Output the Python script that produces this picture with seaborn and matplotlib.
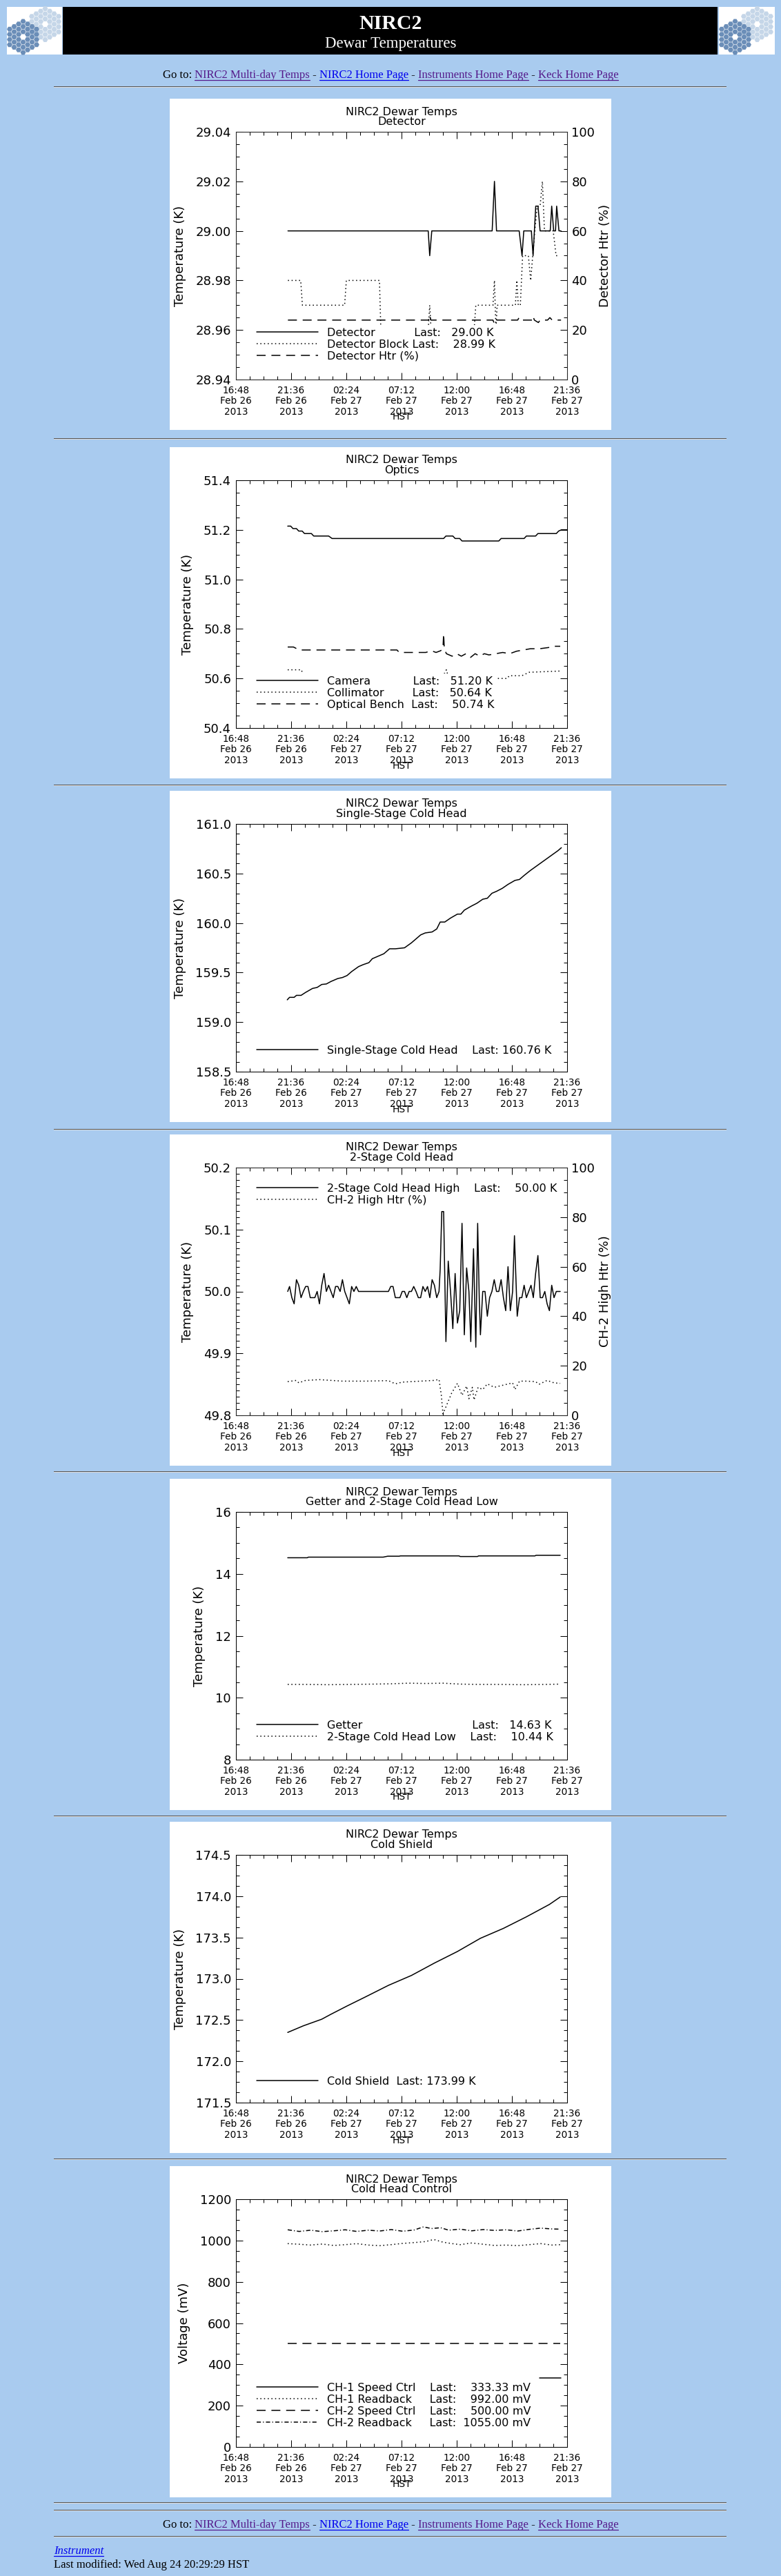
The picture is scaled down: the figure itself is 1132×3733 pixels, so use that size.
import numpy as np
import pandas as pd
import matplotlib
matplotlib.use('Agg')
import matplotlib.pyplot as plt
import seaborn as sns
from matplotlib.patches import Rectangle, RegularPolygon
from matplotlib.ticker import MultipleLocator, FixedLocator, FormatStrFormatter
from matplotlib.transforms import Bbox, TransformedBbox

# ---- time axis: hours after 16:48 HST, Feb 26 2013 ----
x_ticks = [0.0, 4.8, 9.6, 14.4, 19.2, 24.0, 28.8]
x_labels = ['16:48\nFeb 26\n2013', '21:36\nFeb 26\n2013', '02:24\nFeb 27\n2013',
            '07:12\nFeb 27\n2013', '12:00\nFeb 27\n2013', '16:48\nFeb 27\n2013',
            '21:36\nFeb 27\n2013']

# ---- 1. Detector ----
det_t = [4.52, 16.72, 16.85, 17.03, 22.28, 22.48, 22.66, 24.63, 24.88, 25.03, 25.69,
         25.84, 26.07, 26.27, 26.45, 27.33, 27.46, 27.63, 27.79, 27.89, 28.09, 28.27]
det_k = [29.00, 29.00, 28.99, 29.00, 29.00, 29.02, 29.00, 29.00, 28.99, 29.00, 29.00,
         28.99, 29.01, 29.01, 29.00, 29.00, 29.01, 29.00, 29.00, 29.01, 29.00, 29.00]
block_t = [4.52, 5.63, 5.78, 9.45, 9.60, 12.48, 12.60, 16.72, 16.85, 16.97, 20.71, 20.86,
           22.35, 22.48, 22.61, 22.71, 24.30, 24.43, 24.55, 24.73, 24.93, 25.43, 25.63,
           25.81, 25.99, 26.20, 26.45, 26.65, 26.83, 27.59, 27.84, 28.01]
block_k = [28.98, 28.98, 28.97, 28.97, 28.98, 28.98, 28.96, 28.96, 28.97, 28.96, 28.96, 28.97,
           28.97, 28.98, 28.96, 28.97, 28.97, 28.98, 28.97, 28.97, 28.99, 28.99, 28.98,
           28.99, 29.00, 29.01, 29.01, 29.02, 29.00, 29.00, 28.99, 28.99]
dhtr_t = [4.52, 16.75, 16.85, 16.95, 22.35, 22.48, 22.60, 24.50, 24.62, 24.75, 25.75,
          25.84, 25.95, 26.30, 26.45, 27.10, 27.30, 27.50, 28.27]
dhtr_p = [24, 24, 26, 24, 24, 22.5, 24, 24, 25, 24, 24, 25.5, 24, 23, 24, 24, 25, 24, 24]

# ---- 2. Optics ----
cam_t = [4.50, 4.76, 4.96, 5.26, 5.46, 5.76, 5.96, 6.56, 6.76, 8.06, 8.36, 18.06, 18.26,
         18.86, 19.06, 19.46, 19.66, 22.86, 23.06, 25.06, 25.26, 26.06, 26.26, 27.86,
         28.06, 28.30, 28.80]
cam_k = [51.215, 51.215, 51.205, 51.205, 51.195, 51.195, 51.185, 51.185, 51.175, 51.175,
         51.165, 51.165, 51.175, 51.175, 51.165, 51.165, 51.155, 51.155, 51.165, 51.165,
         51.175, 51.175, 51.185, 51.185, 51.195, 51.200, 51.200]
coll_t = [4.50, 5.70, 5.90, 17.90, 18.30, 18.50, 23.60, 23.76, 24.86, 25.50, 28.20]
coll_k = [50.635, 50.635, 50.600, 50.600, 50.635, 50.600, 50.600, 50.611, 50.611, 50.625, 50.630]
bench_t = [4.50, 5.00, 5.50, 14.00, 14.20, 16.50, 17.00, 17.40, 17.80, 18.00, 18.06, 18.12,
           18.30, 18.80, 19.20, 19.60, 20.00, 20.40, 20.80, 21.20, 21.60, 22.00, 22.60,
           23.20, 23.80, 24.40, 25.00, 25.60, 26.40, 27.20, 27.60, 28.20]
bench_k = [50.727, 50.727, 50.715, 50.715, 50.705, 50.705, 50.712, 50.705, 50.712, 50.720,
           50.780, 50.720, 50.700, 50.690, 50.700, 50.690, 50.700, 50.685, 50.700, 50.690,
           50.700, 50.695, 50.700, 50.705, 50.700, 50.710, 50.715, 50.720, 50.720, 50.725,
           50.730, 50.730]

# ---- 3. Single-stage cold head ----
ss_t = [4.46, 4.66, 5.06, 5.26, 5.66, 6.06, 6.66, 7.06, 7.46, 7.86, 8.26, 8.86, 9.26, 9.66,
        10.06, 10.66, 11.06, 11.56, 11.86, 12.46, 12.86, 13.36, 13.86, 14.66, 15.26, 15.66,
        16.06, 16.46, 17.06, 17.46, 17.76, 18.16, 18.66, 19.26, 19.56, 19.86, 20.46, 20.96,
        21.46, 21.86, 22.26, 22.66, 23.16, 23.66, 24.26, 24.66, 25.06, 25.60, 26.20, 26.80,
        27.40, 28.00, 28.30]
ss_k = [159.225, 159.25, 159.25, 159.27, 159.27, 159.30, 159.34, 159.35, 159.38, 159.385,
        159.41, 159.44, 159.45, 159.47, 159.51, 159.56, 159.58, 159.60, 159.64, 159.67,
        159.69, 159.74, 159.74, 159.75, 159.80, 159.84, 159.88, 159.90, 159.91, 159.94,
        160.01, 160.01, 160.05, 160.09, 160.09, 160.13, 160.17, 160.20, 160.24, 160.25,
        160.30, 160.32, 160.35, 160.39, 160.43, 160.44, 160.48, 160.53, 160.58, 160.63,
        160.68, 160.73, 160.76]

# ---- 4. 2-stage cold head ----
ch2_t = [4.50, 4.66, 4.86, 5.06, 5.26, 5.46, 5.66, 5.86, 6.06, 6.26, 6.46, 6.86, 7.06, 7.26,
         7.46, 7.66, 7.86, 8.06, 8.26, 8.46, 8.66, 8.86, 9.06, 9.26, 9.46, 9.66, 9.86, 10.06,
         10.26, 10.46, 10.66, 13.26, 13.46, 13.66, 13.86, 14.26, 14.46, 14.66, 14.86, 15.06,
         15.26, 15.46, 15.66, 15.86, 16.06, 16.26, 16.46, 16.66, 16.86, 17.06, 17.26, 17.46,
         17.66, 17.76, 17.90, 18.06, 18.26, 18.46, 18.66, 18.86, 19.06, 19.26, 19.46, 19.66,
         19.86, 20.06, 20.26, 20.42, 20.66, 20.86, 21.02, 21.16, 21.26, 21.46, 21.66, 21.86,
         22.06, 22.26, 22.46, 22.66, 22.86, 23.06, 23.26, 23.46, 23.66, 23.86, 24.06, 24.22,
         24.46, 24.66, 24.86, 25.06, 25.26, 25.46, 25.66, 25.86, 26.06, 26.26, 26.46, 26.66,
         26.86, 27.06, 27.26, 27.46, 27.66, 27.86, 28.20]
ch2_k = [50.000, 50.008, 49.990, 49.980, 50.019, 50.010, 49.990, 50.000, 50.008, 50.008,
         49.990, 49.990, 50.000, 49.980, 50.010, 50.029, 50.000, 50.010, 50.000, 49.990,
         50.008, 50.008, 50.000, 50.019, 50.000, 49.990, 49.980, 50.008, 50.000, 50.008,
         50.000, 50.000, 50.008, 50.008, 49.990, 49.990, 50.000, 50.000, 49.990, 50.000,
         50.000, 50.008, 50.000, 49.990, 49.990, 50.008, 50.000, 50.008, 49.990, 50.019,
         50.010, 49.990, 50.000, 50.036, 50.129, 50.129, 49.919, 50.049, 50.000, 49.940,
         50.029, 49.949, 49.969, 50.110, 49.930, 50.038, 50.000, 49.919, 50.069, 49.910,
         50.110, 49.988, 49.930, 50.000, 50.000, 49.960, 49.990, 50.000, 50.019, 50.000,
         50.000, 50.019, 49.990, 49.969, 50.040, 49.969, 50.000, 50.090, 49.960, 49.990,
         49.990, 50.010, 49.990, 50.000, 50.010, 49.990, 50.029, 50.058, 49.990, 49.990,
         50.000, 49.980, 49.969, 50.010, 49.990, 50.000, 50.000]
ch2htr_t = [4.50, 5.26, 5.46, 6.06, 7.26, 9.26, 11.26, 13.26, 13.86, 14.46, 17.26, 17.66,
            17.86, 18.00, 18.26, 18.76, 19.26, 19.66, 20.06, 20.26, 20.56, 20.70, 21.06,
            21.46, 21.86, 22.46, 23.26, 24.06, 24.26, 24.66, 25.26, 26.06, 26.36, 27.06,
            27.66, 28.20]
ch2htr_p = [13.6, 14.1, 13.1, 14.1, 14.4, 13.8, 13.8, 14.0, 12.7, 13.4, 14.1, 14.5,
            8.1, 0.6, 3.4, 9.0, 12.9, 8.1, 11.8, 6.7, 11.3, 6.2, 11.3,
            10.4, 12.7, 11.3, 12.2, 13.1, 10.4, 13.8, 13.8, 13.6, 12.5, 14.1,
            13.1, 12.9]

# ---- 5. Getter / 2-stage low ----
get_t = [4.5, 6.2, 6.3, 12.8, 13.2, 14.2, 14.3, 19.4, 19.5, 21.0, 21.1, 26.0, 26.1, 28.2]
get_k = [14.52, 14.52, 14.54, 14.54, 14.57, 14.57, 14.58, 14.58, 14.56, 14.56, 14.58,
         14.58, 14.60, 14.60]
low_t = [4.5, 6.0, 8.0, 10.0, 12.0, 13.5, 15.0, 16.5, 18.0, 19.5, 21.0, 23.0, 25.0, 27.0, 28.2]
low_k = [10.43, 10.43, 10.42, 10.43, 10.44, 10.45, 10.47, 10.46, 10.47, 10.44, 10.43,
         10.43, 10.42, 10.43, 10.44]

# ---- 6. Cold shield ----
cs_t = [4.50, 5.86, 7.46, 8.26, 9.66, 11.26, 13.26, 15.26, 17.26, 19.26, 21.26, 23.26,
        25.26, 27.26, 28.20]
cs_k = [172.35, 172.43, 172.51, 172.57, 172.67, 172.78, 172.92, 173.04, 173.19, 173.33,
        173.49, 173.61, 173.75, 173.90, 173.99]

# ---- 7. Cold head control (mV) ----
sp1_t = [26.4, 28.26]
sp1_mv = [333.33, 333.33]
rb1_t = [4.5, 5.5, 6.5, 7.5, 8.5, 9.5, 10.5, 11.5, 12.5, 13.5, 14.5, 15.5, 16.5, 17.2,
         18.0, 18.8, 19.5, 20.5, 21.5, 22.5, 23.5, 24.5, 25.5, 26.5, 27.5, 28.2]
rb1_mv = [985, 982, 978, 983, 976, 980, 985, 978, 975, 980, 986, 990, 995, 1005,
          992, 985, 980, 988, 982, 976, 978, 975, 980, 985, 978, 980]
sp2_t = [4.5, 28.2]
sp2_mv = [500.0, 500.0]
rb2_t = [4.5, 5.5, 6.5, 7.5, 8.5, 9.5, 10.5, 11.5, 12.5, 13.5, 14.5, 15.5, 16.3, 17.0,
         17.8, 18.5, 19.5, 20.5, 21.5, 22.5, 23.5, 24.5, 25.5, 26.5, 27.5, 28.2]
rb2_mv = [1052, 1044, 1050, 1043, 1047, 1052, 1044, 1050, 1046, 1053, 1045, 1051, 1066,
          1058, 1062, 1050, 1055, 1047, 1053, 1049, 1052, 1046, 1054, 1060, 1056, 1055]

# ---- page layout (pixels) ----
W, H = 1132, 3733
BG = '#a9cbef'
AX_L, AX_W, AX_H = 342, 480, 359
tops = [191, 696, 1194, 1692, 2191, 2688, 3187]
hr_y = [126, 636, 1138, 1637, 2133, 2632, 3129, 3627, 3638, 3676]
LEG_FS = 11.5
SOLID = '-'
DOT = (0, (1, 2.5))
DASH = (0, (8.5, 5.5))
DASHDOT = (0, (4, 2, 0.8, 2))

sns.set_style('ticks')
plt.rcParams['font.family'] = ['DejaVu Sans']
plt.rcParams['text.color'] = 'black'
plt.rcParams['axes.labelcolor'] = 'black'
plt.rcParams['xtick.color'] = 'black'
plt.rcParams['ytick.color'] = 'black'

fig = plt.figure(figsize=(W / 100, H / 100), dpi=100, facecolor=BG)
bg = fig.add_axes([0, 0, 1, 1])
bg.set_xlim(0, W)
bg.set_ylim(H, 0)
bg.axis('off')
renderer = fig.canvas.get_renderer()


def text_width(s, **kw):
    t = bg.text(0, 0, s, **kw)
    w = t.get_window_extent(renderer).width
    t.remove()
    return w


def hr(y):
    bg.add_patch(Rectangle((78, y - 1), 975, 1.2, color='#555555', lw=0))
    bg.add_patch(Rectangle((78, y + 0.2), 975, 1.0, color='#dcdcdc', lw=0))


def mirror(cx, cy, color):
    s = 4.33
    for q in range(-3, 4):
        for r in range(-3, 4):
            if abs(q + r) > 3 or (q == 0 and r == 0):
                continue
            x = cx + 1.5 * s * q
            y = cy + np.sqrt(3) * s * (r + q / 2)
            bg.add_patch(RegularPolygon((x, y), 6, radius=s * 0.92,
                                        orientation=np.pi / 6, color=color, lw=0))


def nav_line(yb):
    serif = dict(fontsize=12, family='Liberation Serif')
    pieces = [('Go to: ', 'black', False), ('NIRC2 Multi-day Temps', '#551a8b', True),
              (' - ', 'black', False), ('NIRC2 Home Page', '#0000ee', True),
              (' - ', 'black', False), ('Instruments Home Page', '#551a8b', True),
              (' - ', 'black', False), ('Keck Home Page', '#551a8b', True)]
    base = text_width('xx', **serif)
    widths = [text_width('x' + p + 'x', **serif) - base for p, _, _ in pieces]
    x = 566 - sum(widths) / 2
    for (p, c, link), w in zip(pieces, widths):
        bg.text(x, yb, p, color=c, ha='left', va='baseline', **serif)
        if link:
            bg.plot([x, x + w], [yb + 3, yb + 3], color=c, lw=0.9)
        x += w


def legend_label(name, value, last_at, value_at, right=False):
    if value is None:
        return name
    kw = dict(fontsize=LEG_FS)

    def start_of(prefix, suffix):
        return text_width(prefix + suffix, **kw) - text_width(suffix, **kw)

    s = name + ' '
    while start_of(s + ' ', 'Last:') <= last_at:
        s += ' '
    s += 'Last: '
    target = value_at - (text_width(value, **kw) if right else 0)
    while start_of(s + ' ', value) <= target:
        s += ' '
    return s + value


def make_chart(top, subtitle, ylim, major, minor, fmt, ylabel):
    bg.add_patch(Rectangle((246, top - 48), 640, 480, color='white', lw=0))
    bg.text(582, top - 24.5, 'NIRC2 Dewar Temps', ha='center', va='baseline', fontsize=11.5)
    bg.text(582, top - 10, subtitle, ha='center', va='baseline', fontsize=11.5)
    bg.text(582, top + AX_H + 58.5, 'HST', ha='center', va='baseline', fontsize=10)
    ax = fig.add_axes([AX_L / W, 1 - (top + AX_H) / H, AX_W / W, AX_H / H])
    ax.set_facecolor('white')
    ax._chart = (top, ylim, major, minor, fmt, ylabel)
    return ax


def style_chart(ax, twin=None):
    top, ylim, major, minor, fmt, ylabel = ax._chart
    ax.set_xlim(0, 28.8)
    ax.set_ylim(*ylim)
    ax.xaxis.set_major_locator(FixedLocator(x_ticks))
    ax.xaxis.set_minor_locator(MultipleLocator(1.2))
    ax.set_xticklabels(x_labels, fontsize=9.8, linespacing=1.13)
    ax.yaxis.set_major_locator(MultipleLocator(major))
    ax.yaxis.set_minor_locator(MultipleLocator(minor))
    ax.yaxis.set_major_formatter(FormatStrFormatter(fmt))
    ax.tick_params(which='both', direction='in', top=True, right=twin is None,
                   width=0.75, colors='black')
    ax.tick_params(which='major', length=7.2)
    ax.tick_params(which='minor', length=3.4)
    ax.tick_params(axis='y', labelsize=13, pad=5)
    ax.tick_params(axis='x', pad=6.5)
    ax.set_xlabel('')
    ax.set_ylabel(ylabel, fontsize=13, labelpad=10)
    for sp in ax.spines.values():
        sp.set_linewidth(0.75)
        sp.set_color('black')
    if twin is not None:
        ax2, rlabel = twin
        ax2.set_ylim(0, 100)
        ax2.yaxis.set_major_locator(MultipleLocator(20))
        ax2.yaxis.set_minor_locator(MultipleLocator(5))
        ax2.yaxis.set_major_formatter(FormatStrFormatter('%d'))
        ax2.tick_params(axis='y', which='both', direction='in', right=True, left=False,
                        labelright=True, labelleft=False, width=0.75, labelsize=13, pad=4.5)
        ax2.tick_params(axis='y', which='major', length=7.2)
        ax2.tick_params(axis='y', which='minor', length=3.4)
        ax2.set_ylabel(rlabel, fontsize=13, labelpad=4, rotation=90)
        for sp in ax2.spines.values():
            sp.set_linewidth(0.75)
        clip = TransformedBbox(Bbox.from_extents(246 / W, 1 - (top + 432) / H,
                                                 886 / W, 1 - (top - 48) / H), fig.transFigure)
        ax2.yaxis.label.set_clip_box(clip)
        ax2.yaxis.label.set_clip_on(True)


def line(ax, t, v, style):
    sns.lineplot(x=t, y=v, ax=ax, color='black', linewidth=1.1, linestyle=style,
                 estimator=None, sort=False, legend=False)
    return ax.lines[-1]


def add_legend(ax, top, handles, labels, row_y):
    F = LEG_FS * 100 / 72
    bp = 0.25
    xa = (372 - bp * F - AX_L) / AX_W
    ya = 1 - ((row_y - 8.2 - bp * F) - top) / AX_H
    leg = ax.legend(handles, labels, loc='upper left', bbox_to_anchor=(xa, ya),
                    borderaxespad=0, borderpad=bp, frameon=True, fancybox=False,
                    framealpha=1, facecolor='white', edgecolor='white', fontsize=LEG_FS,
                    handlelength=5.6, handletextpad=0.8, labelspacing=0.13)
    leg.get_frame().set_linewidth(0)
    leg.set_zorder(10)


# ---- header ----
bg.add_patch(Rectangle((10, 10), 79.5, 69, color='white', lw=0))
bg.add_patch(Rectangle((91, 10), 949, 69, color='black', lw=0))
bg.add_patch(Rectangle((1042, 10), 81, 69, color='white', lw=0))
for dx in (0, 1032):
    mirror(65.5 + dx, 35, '#c5d6e8')
    mirror(33.5 + dx, 53.5, '#6b8eb8')
bg.text(566, 42, 'NIRC2', color='white', ha='center', va='baseline', fontsize=21.5,
        fontweight='bold', family='Liberation Serif')
bg.text(566, 69, 'Dewar Temperatures', color='white', ha='center', va='baseline',
        fontsize=16.5, family='Liberation Serif')
nav_line(113)
for y in hr_y:
    hr(y)
nav_line(3663)
bg.text(78, 3701, 'Instrument', color='#0000ee', ha='left', va='baseline', fontsize=12,
        family='Liberation Serif', fontstyle='italic')
bg.plot([78, 78 + text_width('Instrument', fontsize=12, family='Liberation Serif',
                             fontstyle='italic')], [3703.5, 3703.5], color='#0000ee', lw=0.9)
bg.text(78, 3721, 'Last modified: Wed Aug 24 20:29:29 HST', color='black', ha='left',
        va='baseline', fontsize=12, family='Liberation Serif')

# ---- chart 1: Detector ----
ax = make_chart(tops[0], 'Detector', (28.94, 29.04), 0.02, 0.005, '%.2f', 'Temperature (K)')
h1 = line(ax, det_t, det_k, SOLID)
h2 = line(ax, block_t, block_k, DOT)
ax2 = ax.twinx()
h3 = line(ax2, dhtr_t, dhtr_p, DASH)
style_chart(ax, (ax2, 'Detector Htr (%)'))
add_legend(ax2, tops[0], [h1, h2, h3],
           [legend_label('Detector', '29.00 K', 128, 184),
            legend_label('Detector Block', '28.99 K', 128, 184),
            'Detector Htr (%)'], 483)

# ---- chart 2: Optics ----
ax = make_chart(tops[1], 'Optics', (50.4, 51.4), 0.2, 0.05, '%.1f', 'Temperature (K)')
h1 = line(ax, cam_t, cam_k, SOLID)
h2 = line(ax, coll_t, coll_k, DOT)
h3 = line(ax, bench_t, bench_k, DASH)
style_chart(ax)
add_legend(ax, tops[1], [h1, h2, h3],
           [legend_label('Camera', '51.20 K', 126, 182),
            legend_label('Collimator', '50.64 K', 126, 182),
            legend_label('Optical Bench', '50.74 K', 126, 182)], 988)

# ---- chart 3: Single-Stage Cold Head ----
ax = make_chart(tops[2], 'Single-Stage Cold Head', (158.5, 161.0), 0.5, 0.1, '%.1f',
                'Temperature (K)')
h1 = line(ax, ss_t, ss_k, SOLID)
style_chart(ax)
add_legend(ax, tops[2], [h1], [legend_label('Single-Stage Cold Head', '160.76 K', 211, 251)], 1523)

# ---- chart 4: 2-Stage Cold Head ----
ax = make_chart(tops[3], '2-Stage Cold Head', (49.8, 50.2), 0.1, 0.01, '%.1f', 'Temperature (K)')
h1 = line(ax, ch2_t, ch2_k, SOLID)
ax2 = ax.twinx()
h2 = line(ax2, ch2htr_t, ch2htr_p, DOT)
style_chart(ax, (ax2, 'CH-2 High Htr (%)'))
add_legend(ax2, tops[3], [h1, h2],
           [legend_label('2-Stage Cold Head High', '50.00 K', 217, 273),
            'CH-2 High Htr (%)'], 1723)

# ---- chart 5: Getter and 2-Stage Cold Head Low ----
ax = make_chart(tops[4], 'Getter and 2-Stage Cold Head Low', (8, 16), 2, 0.5, '%d',
                'Temperature (K)')
h1 = line(ax, get_t, get_k, SOLID)
h2 = line(ax, low_t, low_k, DOT)
style_chart(ax)
add_legend(ax, tops[4], [h1, h2],
           [legend_label('Getter', '14.63 K', 211, 268),
            legend_label('2-Stage Cold Head Low', '10.44 K', 211, 268)], 2501)

# ---- chart 6: Cold Shield ----
ax = make_chart(tops[5], 'Cold Shield', (171.5, 174.5), 0.5, 0.125, '%.1f', 'Temperature (K)')
h1 = line(ax, cs_t, cs_k, SOLID)
style_chart(ax)
add_legend(ax, tops[5], [h1], [legend_label('Cold Shield', '173.99 K', 101, 149)], 3017)

# ---- chart 7: Cold Head Control ----
ax = make_chart(tops[6], 'Cold Head Control', (0, 1200), 200, 50, '%d', 'Voltage (mV)')
h1 = line(ax, sp1_t, sp1_mv, SOLID)
h2 = line(ax, rb1_t, rb1_mv, DOT)
h3 = line(ax, sp2_t, sp2_mv, DASH)
h4 = line(ax, rb2_t, rb2_mv, DASHDOT)
style_chart(ax)
add_legend(ax, tops[6], [h1, h2, h3, h4],
           [legend_label('CH-1 Speed Ctrl', '333.33 mV', 151, 299, right=True),
            legend_label('CH-1 Readback', '992.00 mV', 151, 299, right=True),
            legend_label('CH-2 Speed Ctrl', '500.00 mV', 151, 299, right=True),
            legend_label('CH-2 Readback', '1055.00 mV', 151, 299, right=True)], 3461)

fig.savefig('out.png', dpi=100, facecolor=BG)
